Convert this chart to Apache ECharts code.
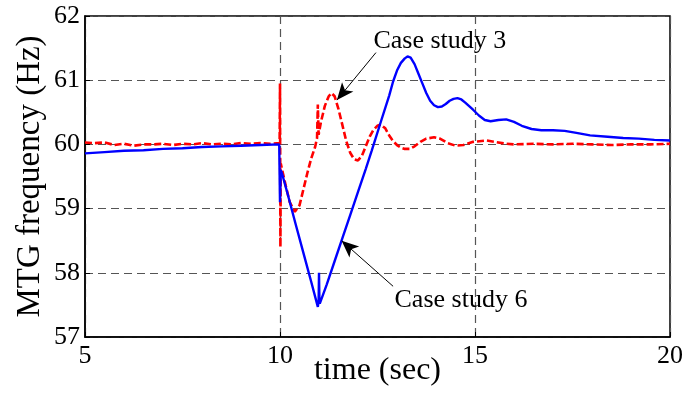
<!DOCTYPE html>
<html><head><meta charset="utf-8">
<script src="https://cdn.jsdelivr.net/npm/echarts@6/dist/echarts.min.js"></script>
<style>html,body{margin:0;padding:0;background:#fff}#c{width:683px;height:393px}</style>
</head><body><div id="c"></div>
<script>
// Case study 6 (blue, solid)
const case6Time = [5.0,5.5,6.0,6.5,7.0,7.5,8.0,8.5,9.0,9.5,9.98,10.0,10.02,10.05,10.2,10.4,10.6,10.8,10.97,10.99,11.0,11.01,11.02,11.2,11.4,11.6,11.8,12.0,12.2,12.35,12.6,12.8,12.9,13.0,13.1,13.2,13.27,13.35,13.45,13.55,13.65,13.75,13.85,13.95,14.05,14.15,14.25,14.35,14.45,14.55,14.65,14.75,14.95,15.1,15.25,15.4,15.6,15.8,16.0,16.2,16.45,16.7,17.0,17.3,17.6,17.95,18.4,18.8,19.2,19.6,20.0];
const case6Freq = [59.86,59.88,59.90,59.91,59.93,59.94,59.96,59.97,59.98,59.99,60.00,59.10,59.60,59.55,59.22,58.76,58.31,57.86,57.47,57.55,58.00,57.60,57.52,57.82,58.18,58.54,58.90,59.26,59.62,59.90,60.38,60.76,60.98,61.15,61.27,61.34,61.37,61.35,61.25,61.10,60.95,60.80,60.68,60.61,60.58,60.59,60.63,60.68,60.71,60.72,60.70,60.65,60.54,60.45,60.38,60.36,60.38,60.39,60.35,60.29,60.24,60.22,60.22,60.21,60.18,60.14,60.12,60.10,60.09,60.07,60.06];
// Case study 3 (red, dashed)
const case3Time = [5.0,5.25,5.5,5.75,6.0,6.25,6.5,6.75,7.0,7.25,7.5,7.75,8.0,8.25,8.5,8.75,9.0,9.25,9.5,9.75,9.99,10.0,10.01,10.02,10.05,10.15,10.25,10.38,10.5,10.6,10.7,10.8,10.9,10.95,10.97,10.99,11.05,11.15,11.25,11.32,11.4,11.5,11.6,11.7,11.8,11.9,12.0,12.1,12.2,12.3,12.4,12.5,12.58,12.7,12.8,12.9,13.0,13.1,13.2,13.33,13.45,13.6,13.75,13.95,14.1,14.3,14.5,14.7,14.95,15.3,15.5,15.8,16.0,16.5,17.0,17.5,18.0,18.5,19.0,19.5,20.0];
const case3Freq = [60.03,60.02,60.03,59.99,60.01,59.98,60.00,60.00,60.01,59.99,60.01,60.00,60.02,60.00,60.01,60.00,60.02,60.01,60.02,60.01,60.02,60.95,58.40,59.70,59.62,59.35,59.10,58.95,59.05,59.30,59.55,59.78,59.96,60.10,60.62,60.15,60.35,60.60,60.75,60.80,60.75,60.55,60.30,60.05,59.87,59.77,59.75,59.82,59.97,60.12,60.23,60.29,60.31,60.25,60.14,60.05,59.99,59.95,59.93,59.93,59.97,60.04,60.09,60.11,60.09,60.02,59.98,59.99,60.04,60.06,60.04,60.01,60.00,60.01,60.00,60.01,60.00,59.99,60.00,60.00,60.01];
// axes
const xTicks = [5,10,15,20];
const yTicks = [57,58,59,60,61,62];
// annotations
const label3 = {text:'Case study 3', at:[14.10,61.61], from:[12.46,61.43], to:[11.46,60.69]};
const label6 = {text:'Case study 6', at:[14.64,57.58], from:[12.90,57.79], to:[11.58,58.50]};

const pairs = (t,f) => t.map((v,i)=>[v,f[i]]);
const font = 'Liberation Serif';
const chart = echarts.init(document.getElementById('c'));
const annLine = (a) => [{coord:a.from, symbol:'none'},{coord:a.to, symbol:'arrow'}];
chart.setOption({
  animation:false,
  backgroundColor:'#fff',
  grid:{left:85,right:13,top:16,bottom:56,outerBoundsMode:'none',containLabel:false,show:true,borderColor:'#000',borderWidth:1.5,backgroundColor:'transparent'},
  xAxis:{type:'value',min:xTicks[0],max:xTicks[xTicks.length-1],interval:5,
    name:'time (sec)',nameLocation:'middle',nameGap:18,nameMoveOverlap:false,
    nameTextStyle:{fontFamily:font,fontSize:32,color:'#000'},
    axisLine:{show:true,lineStyle:{color:'#000',width:1.5}},
    axisTick:{show:true,inside:true,length:5,lineStyle:{color:'#000'}},
    axisLabel:{fontFamily:font,fontSize:26,color:'#000',margin:6},
    splitLine:{show:true,lineStyle:{color:'#555',type:[8,5],width:1.2}}},
  yAxis:{type:'value',min:yTicks[0],max:yTicks[yTicks.length-1],interval:1,
    name:'MTG frequency (Hz)',nameLocation:'middle',nameGap:38,nameMoveOverlap:false,
    nameTextStyle:{fontFamily:font,fontSize:33,color:'#000'},
    axisLine:{show:true,lineStyle:{color:'#000',width:1.5}},
    axisTick:{show:true,inside:true,length:5,lineStyle:{color:'#000'}},
    axisLabel:{fontFamily:font,fontSize:26,color:'#000',margin:5},
    splitLine:{show:true,lineStyle:{color:'#555',type:[8,5],width:1.2}}},
  series:[
    {name:'Case study 3',type:'line',data:pairs(case3Time,case3Freq),showSymbol:false,
     lineStyle:{color:'#ff0000',width:2.6,type:[7,3]},z:2,
     markLine:{silent:true,symbolSize:[11,17],lineStyle:{color:'#000',width:1,type:'solid'},label:{show:false},
       data:[annLine(label3)]},
     markPoint:{silent:true,symbol:'circle',symbolSize:0,
       label:{show:true,position:'inside',fontFamily:font,fontSize:26,color:'#000',formatter:label3.text},
       data:[{coord:label3.at}]}},
    {name:'Case study 6',type:'line',data:pairs(case6Time,case6Freq),showSymbol:false,
     lineStyle:{color:'#0000ff',width:2.4},z:3,
     markLine:{silent:true,symbolSize:[11,17],lineStyle:{color:'#000',width:1,type:'solid'},label:{show:false},
       data:[annLine(label6)]},
     markPoint:{silent:true,symbol:'circle',symbolSize:0,
       label:{show:true,position:'inside',fontFamily:font,fontSize:26,color:'#000',formatter:label6.text},
       data:[{coord:label6.at}]}}
  ]
});
</script></body></html>
